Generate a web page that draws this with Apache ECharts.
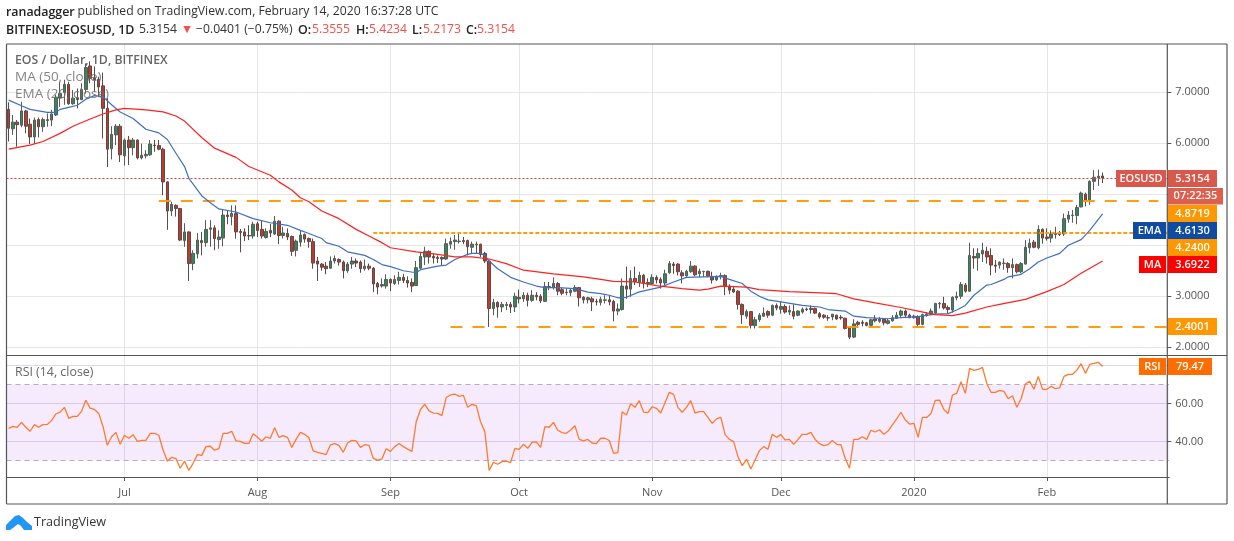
<!DOCTYPE html>
<html><head><meta charset="utf-8">
<style>html,body{margin:0;padding:0;background:#fff}#c{width:1234px;height:541px}</style>
<script src="https://cdn.jsdelivr.net/npm/echarts@6/dist/echarts.min.js"></script>
</head><body><div id="c"></div>
<script>
// Daily candles from 2019-06-04: [open, close, low, high]
const ohlc = [
[6.66,6.29,6.03,6.80],[6.28,6.41,6.16,6.55],[6.41,6.36,5.93,6.45],[6.35,6.63,6.31,6.81],[6.63,6.33,6.19,6.65],[6.37,6.12,5.98,6.48],[6.12,6.45,5.99,6.50],[6.46,6.32,6.11,6.50],[6.32,6.46,6.22,6.50],[6.44,6.46,6.32,6.58],
[6.45,6.57,6.33,6.65],[6.55,6.90,6.53,6.95],[6.88,6.97,6.71,7.20],[6.99,7.15,6.75,7.24],[7.15,6.77,6.75,7.20],[6.77,6.88,6.75,7.04],[6.88,6.85,6.68,7.07],[6.85,7.05,6.85,7.17],[7.05,7.48,6.97,7.56],[7.51,7.27,7.17,7.60],
[7.27,7.24,7.00,7.50],[7.25,7.10,6.90,7.30],[7.12,6.68,6.09,7.38],[6.68,5.88,5.53,6.88],[5.89,6.17,5.68,6.33],[6.16,6.33,5.96,6.37],[6.33,5.77,5.63,6.37],[5.75,6.06,5.56,6.09],[6.06,5.91,5.57,6.14],[5.91,6.06,5.76,6.10],
[6.06,5.71,5.68,6.07],[5.71,5.76,5.68,5.99],[5.75,5.78,5.70,5.86],[5.77,5.98,5.75,6.06],[5.96,5.95,5.83,6.06],[5.95,5.88,5.86,6.06],[5.88,5.24,4.98,5.91],[5.24,4.67,4.30,5.25],[4.67,4.80,4.57,4.85],[4.78,4.72,4.56,4.80],
[4.72,4.10,4.08,4.73],[4.09,4.26,3.97,4.43],[4.26,3.64,3.30,4.27],[3.64,3.84,3.51,3.90],[3.83,4.10,3.74,4.24],[4.09,4.05,3.80,4.26],[4.05,4.31,3.97,4.49],[4.31,4.34,3.97,4.49],[4.34,4.13,3.90,4.39],[4.11,4.16,3.93,4.29],
[4.14,4.59,3.98,4.69],[4.59,4.56,4.41,4.67],[4.56,4.62,4.39,4.78],[4.62,4.26,4.13,4.78],[4.27,4.25,3.86,4.32],[4.26,4.18,4.08,4.33],[4.19,4.18,4.10,4.39],[4.18,4.41,4.13,4.46],[4.42,4.29,4.16,4.46],[4.31,4.18,4.13,4.49],
[4.15,4.27,4.13,4.33],[4.29,4.24,4.16,4.42],[4.22,4.47,4.20,4.57],[4.47,4.19,4.02,4.49],[4.19,4.24,4.13,4.36],[4.23,4.16,4.10,4.33],[4.17,3.88,3.79,4.19],[3.90,4.08,3.78,4.11],[4.06,4.20,3.97,4.29],[4.21,4.12,4.05,4.23],
[4.13,4.07,3.95,4.15],[4.07,3.65,3.54,4.13],[3.69,3.63,3.30,3.77],[3.63,3.57,3.50,3.65],[3.59,3.54,3.43,3.67],[3.55,3.69,3.54,3.78],[3.69,3.74,3.64,3.80],[3.72,3.67,3.60,3.74],[3.67,3.50,3.35,3.70],[3.50,3.63,3.46,3.67],
[3.63,3.69,3.54,3.77],[3.69,3.65,3.57,3.74],[3.67,3.54,3.46,3.70],[3.54,3.59,3.50,3.72],[3.59,3.55,3.51,3.64],[3.55,3.24,3.08,3.57],[3.25,3.18,3.04,3.28],[3.20,3.23,3.17,3.35],[3.20,3.33,3.15,3.43],[3.33,3.26,3.10,3.35],
[3.25,3.33,3.22,3.41],[3.31,3.37,3.23,3.48],[3.37,3.31,3.26,3.44],[3.31,3.26,3.17,3.39],[3.27,3.20,3.08,3.35],[3.21,3.56,3.20,3.69],[3.55,3.78,3.54,3.87],[3.77,3.88,3.61,3.97],[3.88,3.77,3.64,3.90],[3.78,3.75,3.64,3.84],
[3.76,3.74,3.65,3.80],[3.76,3.73,3.61,3.78],[3.73,4.03,3.71,4.13],[4.02,4.07,3.93,4.15],[4.07,4.10,3.91,4.20],[4.07,4.08,4.03,4.23],[4.09,4.07,4.02,4.16],[4.09,3.97,3.80,4.11],[3.96,4.02,3.84,4.07],[4.02,4.01,3.84,4.07],
[4.02,3.82,3.77,4.03],[3.84,3.69,3.65,3.87],[3.69,2.76,2.40,3.72],[2.76,2.88,2.63,2.95],[2.88,2.79,2.58,2.90],[2.79,2.84,2.69,2.89],[2.82,2.84,2.73,2.89],[2.84,2.79,2.67,2.89],[2.79,3.00,2.69,3.07],[2.98,2.95,2.86,3.13],
[2.95,3.02,2.89,3.08],[3.02,2.92,2.80,3.07],[2.92,3.02,2.89,3.12],[3.02,2.99,2.92,3.08],[3.00,2.91,2.87,3.04],[2.90,3.19,2.89,3.28],[3.19,3.17,3.12,3.28],[3.17,3.25,3.13,3.37],[3.25,3.10,3.02,3.28],[3.13,3.06,3.02,3.17],
[3.07,3.08,3.02,3.15],[3.07,3.12,3.00,3.15],[3.10,3.17,3.08,3.22],[3.17,2.97,2.80,3.18],[2.98,2.93,2.86,3.00],[2.93,2.97,2.86,2.99],[2.95,2.89,2.71,2.99],[2.90,2.89,2.82,2.95],[2.88,2.94,2.82,2.99],[2.92,2.93,2.86,3.02],
[2.93,2.89,2.82,3.02],[2.90,2.71,2.51,2.93],[2.71,2.75,2.63,2.86],[2.74,3.20,2.72,3.35],[3.20,3.14,2.95,3.58],[3.14,3.35,2.99,3.51],[3.35,3.29,3.22,3.58],[3.27,3.41,3.18,3.48],[3.41,3.26,3.15,3.44],[3.27,3.25,3.18,3.35],
[3.25,3.37,3.22,3.43],[3.37,3.32,3.25,3.41],[3.33,3.26,3.15,3.37],[3.26,3.44,3.22,3.52],[3.46,3.64,3.44,3.69],[3.63,3.60,3.44,3.67],[3.63,3.48,3.41,3.65],[3.46,3.40,3.25,3.51],[3.40,3.49,3.38,3.52],[3.48,3.59,3.46,3.69],
[3.59,3.42,3.39,3.61],[3.44,3.49,3.37,3.54],[3.48,3.49,3.38,3.49],[3.49,3.40,3.37,3.50],[3.39,3.32,3.25,3.48],[3.32,3.385,3.30,3.41],[3.385,3.405,3.33,3.46],[3.405,3.20,3.02,3.43],[3.20,3.12,3.04,3.235],[3.14,3.085,3.065,3.18],
[3.10,2.84,2.74,3.12],[2.84,2.64,2.46,2.86],[2.61,2.70,2.56,2.74],[2.70,2.43,2.37,2.71],[2.425,2.54,2.37,2.595],[2.54,2.63,2.50,2.67],[2.61,2.67,2.595,2.78],[2.70,2.63,2.58,2.725],[2.63,2.82,2.61,2.84],[2.82,2.77,2.725,2.86],
[2.745,2.80,2.66,2.90],[2.80,2.69,2.66,2.84],[2.69,2.725,2.63,2.82],[2.70,2.61,2.55,2.84],[2.63,2.71,2.61,2.725],[2.69,2.745,2.66,2.78],[2.75,2.74,2.71,2.78],[2.765,2.74,2.66,2.82],[2.76,2.67,2.65,2.78],[2.66,2.595,2.56,2.69],
[2.63,2.59,2.56,2.65],[2.58,2.575,2.52,2.63],[2.595,2.65,2.53,2.65],[2.63,2.555,2.54,2.64],[2.59,2.575,2.54,2.63],[2.57,2.37,2.35,2.58],[2.39,2.20,2.16,2.41],[2.20,2.46,2.18,2.55],[2.49,2.45,2.41,2.52],[2.49,2.47,2.41,2.53],
[2.48,2.43,2.41,2.50],[2.43,2.54,2.41,2.56],[2.555,2.52,2.49,2.63],[2.51,2.555,2.48,2.595],[2.55,2.48,2.43,2.575],[2.47,2.52,2.45,2.56],[2.52,2.58,2.50,2.63],[2.57,2.63,2.555,2.69],[2.63,2.71,2.575,2.74],[2.71,2.63,2.58,2.74],
[2.63,2.58,2.57,2.66],[2.58,2.61,2.56,2.64],[2.60,2.45,2.41,2.63],[2.45,2.64,2.43,2.66],[2.63,2.65,2.60,2.69],[2.65,2.71,2.63,2.76],[2.67,2.86,2.66,2.87],[2.85,2.86,2.76,2.89],[2.86,2.77,2.74,2.99],[2.78,2.74,2.66,2.82],
[2.73,2.98,2.68,3.00],[2.97,3.00,2.92,3.09],[3.00,3.23,2.95,3.28],[3.22,3.10,3.07,3.26],[3.10,3.80,3.09,4.05],[3.78,3.75,3.54,3.94],[3.75,3.84,3.50,3.94],[3.83,3.90,3.67,4.05],[3.88,3.77,3.64,3.97],[3.80,3.61,3.41,3.94],
[3.61,3.59,3.46,3.71],[3.61,3.67,3.54,3.68],[3.64,3.65,3.52,3.74],[3.64,3.56,3.46,3.67],[3.56,3.62,3.35,3.74],[3.62,3.48,3.45,3.64],[3.48,3.64,3.45,3.67],[3.63,3.96,3.62,4.10],[3.95,4.04,3.84,4.13],[4.06,3.96,3.94,4.10],
[3.95,4.31,3.92,4.39],[4.31,4.14,4.03,4.33],[4.16,4.13,4.09,4.33],[4.14,4.22,4.05,4.29],[4.21,4.23,4.13,4.36],[4.23,4.21,4.18,4.28],[4.22,4.52,4.18,4.62],[4.51,4.59,4.44,4.67],[4.58,4.59,4.44,4.69],[4.58,4.74,4.41,4.79],
[4.75,5.02,4.74,5.05],[5.00,4.88,4.76,5.03],[4.88,5.25,4.79,5.27],[5.25,5.33,5.08,5.47],[5.32,5.35,5.16,5.48],[5.3555,5.3154,5.2173,5.4234]
];
// [day index, value]
const ema20 = [[0,6.84],[3,6.73],[5,6.66],[9,6.60],[11,6.60],[12,6.66],[14,6.70],[16,6.74],[18,6.86],[20,6.93],[22,6.91],[24,6.75],[26,6.61],[29,6.48],[32,6.27],[35,6.20],[37,6.07],[39,5.80],[41,5.54],[42,5.31],[45,4.97],[47,4.83],[49,4.71],[53,4.65],[57,4.52],[61,4.44],[65,4.39],[68,4.29],[70,4.23],[73,4.13],[74,4.05],[77,3.98],[79,3.87],[83,3.80],[85,3.72],[87,3.62],[89,3.58],[92,3.50],[95,3.46],[96,3.52],[100,3.59],[102,3.61],[104,3.72],[107,3.82],[108,3.84],[110,3.84],[111,3.80],[112,3.69],[114,3.54],[117,3.37],[120,3.28],[123,3.20],[125,3.17],[128,3.17],[132,3.15],[135,3.08],[138,3.05],[140,3.02],[142,2.97],[144,2.98],[147,3.085],[152,3.18],[155,3.28],[158,3.37],[162,3.38],[166,3.39],[168,3.33],[171,3.25],[173,3.10],[175,3.00],[177,2.93],[180,2.89],[185,2.82],[189,2.79],[191,2.74],[195,2.71],[197,2.61],[200,2.58],[205,2.56],[208,2.58],[212,2.60],[216,2.65],[219,2.66],[221,2.73],[223,2.82],[225,3.02],[228,3.22],[229,3.23],[232,3.33],[233,3.38],[236,3.43],[238,3.54],[240,3.67],[242,3.75],[245,3.84],[247,4.00],[250,4.11],[252,4.29],[255,4.613]];
const ma50 = [[0,5.88],[5,5.96],[8,6.03],[12,6.19],[15,6.33],[19,6.47],[22,6.57],[25,6.65],[27,6.68],[32,6.65],[36,6.61],[39,6.53],[41,6.43],[45,6.11],[48,5.90],[53,5.72],[56,5.54],[61,5.37],[63,5.24],[66,5.08],[68,4.93],[70,4.85],[73,4.67],[77,4.52],[81,4.31],[84,4.18],[87,4.05],[89,3.95],[95,3.87],[100,3.82],[104,3.77],[108,3.77],[112,3.73],[116,3.64],[120,3.51],[127,3.44],[134,3.38],[138,3.33],[141,3.29],[146,3.28],[151,3.21],[157,3.15],[161,3.12],[163,3.14],[166,3.20],[172,3.18],[175,3.13],[182,3.09],[188,3.07],[193,3.05],[197,2.95],[202,2.87],[208,2.78],[212,2.71],[216,2.64],[220,2.62],[223,2.67],[228,2.79],[231,2.84],[237,2.94],[242,3.09],[246,3.23],[250,3.45],[255,3.6922]];
// RSI(14) per day
const rsi = [46.9,48.0,47.5,50.1,47.5,45.4,48.9,47.5,48.9,49.0,51.0,54.5,55.5,58.0,52.2,53.2,53.2,55.9,61.7,57.6,56.9,54.8,47.8,38.0,42.5,44.8,38.5,43.3,41.7,43.6,40.1,40.6,40.6,44.3,44.3,43.3,35.5,29.6,31.7,31.0,25.9,29.7,24.8,28.5,33.1,32.7,37.3,37.5,35.4,36.2,44.3,44.3,45.4,40.3,40.1,39.0,39.0,44.1,42.2,40.1,42.5,41.7,47.3,42.2,43.1,42.2,36.9,41.1,44.8,43.8,42.0,35.0,34.3,33.8,33.1,38.2,38.9,38.0,34.3,39.2,40.6,40.3,36.9,38.3,38.0,31.2,30.1,30.8,36.2,34.8,37.3,38.9,37.3,36.0,34.8,50.4,56.9,
59.6,56.1,55.0,54.8,53.6,63.2,64.5,65.0,63.8,64.3,58.0,59.6,58.9,50.4,45.2,24.8,29.0,28.0,29.4,29.7,28.9,36.4,35.9,38.5,36.4,39.6,39.8,36.9,47.8,47.5,50.1,45.9,44.7,44.3,46.1,48.3,41.1,40.3,41.1,39.2,38.9,41.7,41.7,40.5,33.8,34.1,55.7,54.0,59.9,58.0,61.5,55.5,55.2,58.3,57.5,55.0,60.4,65.9,64.8,58.0,55.4,58.0,61.5,55.0,55.7,55.7,52.7,49.6,51.9,52.7,43.6,41.1,39.9,32.0,27.3,30.6,25.5,30.3,35.2,37.3,35.9,43.8,42.2,43.6,40.8,41.1,38.5,41.1,43.8,43.8,44.8,41.1,38.9,37.8,38.3,40.6,38.5,38.3,
31.2,25.9,41.1,41.1,42.5,41.1,45.9,45.0,46.2,43.8,45.5,48.7,51.9,55.4,51.3,49.2,49.6,42.2,52.7,52.7,54.7,61.7,61.8,56.9,54.8,64.5,65.4,71.5,65.4,78.5,77.5,78.0,79.0,70.6,65.9,65.9,66.9,66.4,62.5,64.1,58.0,62.5,70.3,71.7,67.5,74.3,67.5,67.5,69.0,67.8,68.3,74.3,75.4,75.4,77.6,81.0,75.9,80.6,81.1,81.7,79.47];
const dayCount = 271;
const startDay = Date.UTC(2019,5,4);
const categories = Array.from({length:dayCount},(_,i)=>new Date(startDay+i*864e5).toISOString().slice(0,10));
const monthDays = [27,58,89,119,150,180,211,242];
const monthLabels = ['Jul','Aug','Sep','Oct','Nov','Dec','2020','Feb'];
const priceTicks = [2,3,4,5,6,7];
const rsiTicks = [40,60,80];
const lastPrice = 5.3154;
// Drawn support levels: [day from, day to, price]
const wideDash = [[35,268,4.8719],[103,270,2.4001]];
const fineDash = [[85,270,4.24]];
const RSI_HIGH = 70, RSI_LOW = 30;

const L=6.5, W=1162.6, T1=44, H1=311.5, T2=355.5, H2=121.5, AX=1167.3;
const FONT='"Open Sans","Noto Sans",sans-serif';
const GRID='#e6e6e6', TXT='#555';
const isMonth=i=>monthDays.includes(i);

function tag(x,y,w,h,fill,text){return [
 {type:'rect',z:100,shape:{x,y,width:w,height:h},style:{fill}},
 {type:'text',z:101,x:x+w/2,y:y+h/2,style:{text,fill:'#fff',font:'600 11px '+FONT,textAlign:'center',textVerticalAlign:'middle'}}
];}
function gline(x1,y1,x2,y2,c,w){return {type:'line',z:90,shape:{x1,y1,x2,y2},style:{stroke:c||'#555',lineWidth:w||1.2}};}
function gtext(x,y,text,font,fill){return {type:'text',z:100,x,y,style:{text,font,fill,textVerticalAlign:'middle'}};}

const B='600 12.4px '+FONT, N='12.2px '+FONT, RED='#f0524a', DK='#222';
const graphics=[
 gline(6.5,44,1227,44),gline(6.5,44,6.5,504),gline(6.5,504,1227,504),gline(1227,44,1227,504),
 gline(6.5,355.5,1227,355.5),gline(AX,44,AX,504),
 gtext(6,12,'ranadagger',B,DK),
 gtext(77.5,12,'published on TradingView.com, February 14, 2020 16:37:28 UTC',N,'#333'),
 gtext(6,30,'BITFINEX:EOSUSD, 1D',B,DK),
 gtext(139,30,'5.3154',N,'#333'),gtext(181,30,'▼',N,RED),
 gtext(196,30,'−0.0401 (−0.75%)',N,'#333'),
 gtext(298,30,'O:',B,DK),gtext(312,30,'5.3555',N,RED),
 gtext(356,30,'H:',B,DK),gtext(369,30,'5.4234',N,RED),
 gtext(412,30,'L:',B,DK),gtext(423,30,'5.2173',N,RED),
 gtext(466,30,'C:',B,DK),gtext(477,30,'5.3154',N,RED),
 gtext(15,60,'EOS / Dollar, 1D, BITFINEX','600 12.3px '+FONT,'rgba(85,85,85,0.9)'),
 gtext(15,77,'MA (50, close)','13.5px '+FONT,'rgba(110,110,110,0.85)'),
 gtext(15,94,'EMA (20, close)','13.5px '+FONT,'rgba(110,110,110,0.85)'),
 gtext(15,372,'RSI (14, close)','12.4px '+FONT,'#666'),
 ...tag(1116,170,50,17,'#d9584b','EOSUSD'),...tag(1168,170,49,17,'#d9584b','5.3154'),
 ...tag(1168,188,55,16.5,'#dd5f50','07:22:35'),
 ...tag(1168,205,49,17,'#ff9800','4.8719'),
 ...tag(1133,222,33,17,'#0f4aa3','EMA'),...tag(1168,222,49,17,'#0f4aa3','4.6130'),
 ...tag(1168,239,49,17,'#ff9800','4.2400'),
 ...tag(1139,256,27,17,'#ff0000','MA'),...tag(1168,256,49,17,'#ff0000','3.6922'),
 ...tag(1168,318,49,17,'#ff9800','2.4001'),
 ...tag(1139,358,27,17,'#ff6d00','RSI'),...tag(1168,358,44,17,'#ff6d00','79.47'),
 {type:'polygon',z:100,shape:{points:[[6,530],[6,525],[11,520],[15,516],[19,515],[23,518],[27,522],[32,526],[32,530],[24,530],[21,526],[18,524],[13,528],[10,530]]},style:{fill:'#2196f3'}},
 gtext(34,522,'TradingView','12.6px '+FONT,'#333')
];

function levelLines(list,dash){return {silent:true,symbol:'none',animation:false,label:{show:false},
 lineStyle:{color:'#ff9800',width:2,type:dash,opacity:.95},
 data:list.map(([a,b,v])=>[{coord:[a,v]},{coord:[b,v]}])};}

const splitX={show:true,alignWithLabel:true,interval:(i)=>isMonth(i),lineStyle:{color:GRID,width:1}};
const option={
 animation:false,backgroundColor:'#fff',textStyle:{fontFamily:FONT},
 graphic:graphics,
 grid:[{left:L,top:T1,width:W,height:H1},{left:L,top:T2,width:W,height:H2}],
 xAxis:[
  {type:'category',gridIndex:0,data:categories,axisLine:{show:false},axisTick:{show:false},axisLabel:{show:false},splitLine:splitX},
  {type:'category',gridIndex:1,data:categories,axisLine:{show:true,lineStyle:{color:'#555',width:1.2}},
   axisTick:{show:true,alignWithLabel:true,length:4,interval:(i)=>isMonth(i),lineStyle:{color:'#555'}},
   axisLabel:{show:true,interval:(i)=>isMonth(i),formatter:(v,i)=>monthLabels[monthDays.indexOf(i)]||'',color:TXT,fontSize:11,margin:10,fontFamily:FONT},splitLine:splitX}
 ],
 yAxis:[
  {type:'value',gridIndex:0,position:'right',offset:-1.8,min:1.84,max:7.94,axisLine:{show:false},
   axisTick:{show:true,length:4,customValues:priceTicks,lineStyle:{color:'#555'}},splitLine:{show:true,lineStyle:{color:GRID,width:1}},
   axisLabel:{color:TXT,fontSize:11,margin:8,padding:[2,0,0,0],fontFamily:FONT,customValues:priceTicks,formatter:v=>v.toFixed(4)}},
  {type:'value',gridIndex:1,position:'right',offset:-1.8,min:21.3,max:85.3,axisLine:{show:false},
   axisTick:{show:true,length:4,customValues:rsiTicks,lineStyle:{color:'#555'}},splitLine:{show:true,lineStyle:{color:'#e2d6ea',width:1}},
   axisLabel:{color:TXT,fontSize:11,margin:8,padding:[2,0,0,0],fontFamily:FONT,customValues:rsiTicks,formatter:v=>v.toFixed(2)}}
 ],
 series:[
  {type:'candlestick',name:'EOSUSD',xAxisIndex:0,yAxisIndex:0,data:ohlc,barWidth:3,
   itemStyle:{color:'#2f8a57',color0:'#c0392b',borderColor:'#5a5a5a',borderColor0:'#5a4a48',borderWidth:1},
   markLine:{silent:true,symbol:'none',label:{show:false},lineStyle:{color:'#e53935',width:1,type:[2,2]},data:[{yAxis:lastPrice}]}},
  {type:'line',name:'EMA 20',xAxisIndex:0,yAxisIndex:0,data:ema20,showSymbol:false,smooth:false,lineStyle:{color:'#3f6fc0',width:1.2},z:5},
  {type:'line',name:'MA 50',xAxisIndex:0,yAxisIndex:0,data:ma50,showSymbol:false,smooth:false,lineStyle:{color:'#ff2020',width:1.2},z:5},
  {type:'line',name:'Levels A',xAxisIndex:0,yAxisIndex:0,data:[],markLine:levelLines(wideDash,[12,10]),z:6},
  {type:'line',name:'Levels B',xAxisIndex:0,yAxisIndex:0,data:[],markLine:levelLines(fineDash,[4,2]),z:6},
  {type:'line',name:'RSI',xAxisIndex:1,yAxisIndex:1,data:rsi,showSymbol:false,lineStyle:{color:'#ff7a2f',width:1.3},z:5,
   markArea:{silent:true,itemStyle:{color:'rgba(155,60,230,0.10)'},data:[[{yAxis:RSI_LOW},{yAxis:RSI_HIGH}]]},
   markLine:{silent:true,symbol:'none',label:{show:false},lineStyle:{color:'#b9acbf',width:1.2,type:[5,4]},data:[{yAxis:RSI_HIGH},{yAxis:RSI_LOW}]}}
 ]
};
const chart=echarts.init(document.getElementById('c'),null,{renderer:'canvas'});
chart.setOption(option);
</script></body></html>
